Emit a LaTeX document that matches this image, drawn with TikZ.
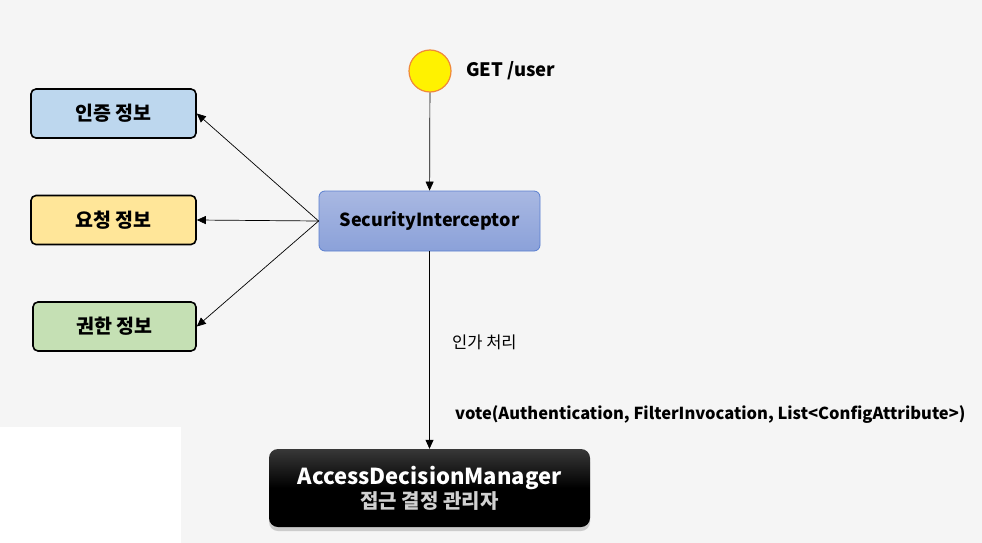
\documentclass[tikz,border=0pt]{standalone}
\usepackage{fontspec}
\setmainfont{Noto Sans CJK KR}
\usetikzlibrary{arrows.meta,shadows,positioning}
\definecolor{bg}{HTML}{F5F5F5}
\definecolor{infoblue}{HTML}{BDD7EE}
\definecolor{infoyellow}{HTML}{FFE699}
\definecolor{infogreen}{HTML}{C5E0B4}
\definecolor{sitop}{HTML}{A9B8E2}
\definecolor{sibot}{HTML}{8BA1D9}
\definecolor{siline}{HTML}{5A7FD0}
\definecolor{circline}{HTML}{F0883A}
\begin{document}
\begin{tikzpicture}[x=1pt,y=-1pt,
  infobox/.style={draw=black,line width=1.6pt,rounded corners=5pt,minimum width=165pt,minimum height=49pt,inner sep=0pt,font=\bfseries\fontsize{19.5}{22}\selectfont},
  link/.style={-{Triangle[length=9pt,width=8pt]},line width=0.7pt},
  lbl/.style={anchor=west,inner sep=0pt}]
\fill[bg] (0,0) rectangle (982,543);
\fill[white] (0,427) rectangle (181,543);
\useasboundingbox (0,0) rectangle (982,543);
\node[circle,draw=circline,line width=1.2pt,fill=yellow,minimum size=42pt,inner sep=0pt] (req) at (430,71) {};
\node[lbl,font=\bfseries\fontsize{18.5}{20}\selectfont] (get) at (466,71) {GET /user};
\node[draw=siline,line width=0.8pt,rounded corners=6pt,top color=sitop,bottom color=sibot,minimum width=221pt,minimum height=60pt,inner sep=0pt,font=\bfseries\fontsize{18}{20}\selectfont] (si) at (429.5,221) {SecurityInterceptor};
\node[infobox,fill=infoblue] (auth) at (113.5,113.5) {인증 정보};
\node[infobox,fill=infoyellow] (reqinfo) at (113.5,220) {요청 정보};
\node[infobox,fill=infogreen,minimum width=163pt] (perm) at (114.5,326.5) {권한 정보};
\node[rounded corners=9pt,top color=black!78,bottom color=black,middle color=black,shading angle=0,drop shadow={shadow xshift=0pt,shadow yshift=-4pt,opacity=0.35},minimum width=321pt,minimum height=78pt,inner sep=0pt,align=center,text=white] (adm) at (429.5,488) {{\bfseries\fontsize{22}{24}\selectfont AccessDecisionManager}\\[1pt]{\color{black!18}\bfseries\fontsize{20}{22}\selectfont 접근 결정 관리자}};
\draw[link] (req) -- (si);
\draw[link] (si.west) -- (auth.east);
\draw[link] (si.west) -- (reqinfo.east);
\draw[link] (si.west) -- (perm.east);
\draw[link] (si) -- (adm);
\node[lbl,font=\fontsize{16.5}{18}\selectfont] (auth2) at (452,342) {인가 처리};
\node[lbl,font=\bfseries\fontsize{16.5}{18}\selectfont] (vote) at (455,415) {vote(Authentication, FilterInvocation, List<ConfigAttribute>)};
\end{tikzpicture}
\end{document}
